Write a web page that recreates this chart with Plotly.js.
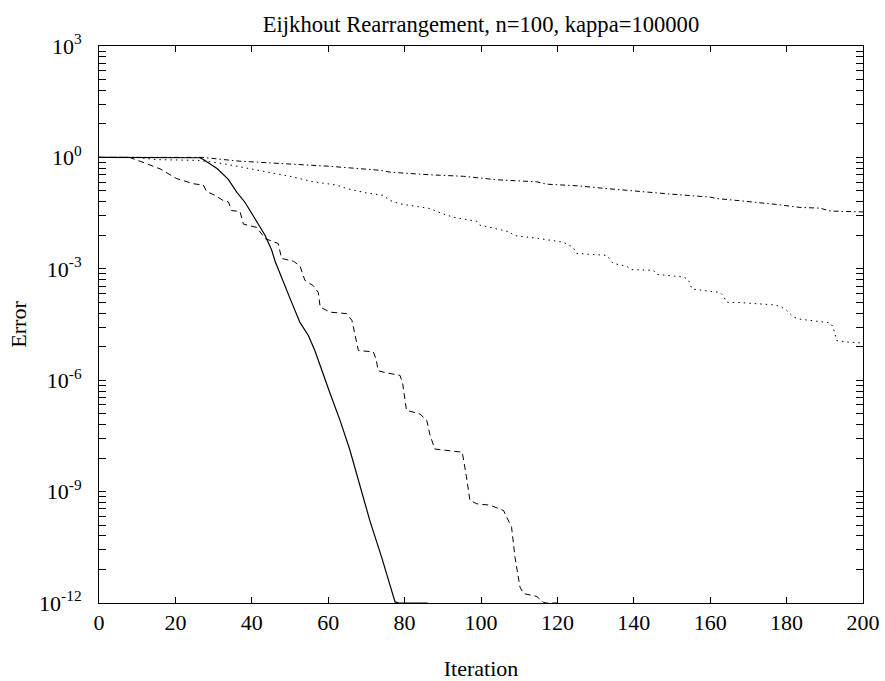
<!DOCTYPE html>
<html>
<head>
<meta charset="utf-8">
<script src="https://cdn.plot.ly/plotly-3.0.1.min.js"></script>
<style>html,body{margin:0;padding:0;background:#fff;}#chart{width:885px;height:681px;}</style>
</head>
<body>
<div id="chart"></div>
<script>
// ---- data ----
const solidIter = [0, 10, 20, 26.4, 27.2, 30.9, 33.8, 36.1, 38.2, 40.3, 43.5, 45.2, 46.1, 50.0, 50.9, 52.6, 54.8, 56.5, 60.5, 63.1, 65.6, 70.9, 74.0, 76.6, 77.5, 78.5, 86];
const solidErr  = [1, 1, 1, 9.8e-1, 8.9e-1, 5.0e-1, 2.6e-1, 1.15e-1, 6.2e-2, 2.75e-2, 7.9e-3, 3.2e-3, 1.6e-3, 1.6e-4, 9.3e-5, 3.6e-5, 1.6e-5, 6.3e-6, 4.4e-7, 8.3e-8, 1.4e-8, 1.66e-10, 1.7e-11, 2.2e-12, 1.07e-12, 1e-12, 1e-12];

const dashIter = [0, 8, 10.7, 16.0, 20.3, 24.7, 27.3, 28.2, 30.4, 32.5, 33.9, 34.7, 36.9, 37.8, 41.3, 43.5, 46.9, 47.8, 50.9, 52.6, 53.9, 56.1, 57.4, 57.9, 60.5, 64.8, 66.2, 67.9, 71.8, 72.5, 73.1, 74.9, 78.8, 79.5, 80.5, 82.3, 84.0, 85.8, 86.6, 87.9, 91.9, 95.1, 96.2, 97.1, 98.9, 102.4, 105.9, 108.0, 108.9, 110.2, 111.1, 114.6, 116.3, 117, 120];
const dashErr  = [1, 1, 7.9e-1, 4.9e-1, 2.7e-1, 1.95e-1, 1.8e-1, 1.2e-1, 9.5e-2, 6.9e-2, 6.3e-2, 3.7e-2, 3.5e-2, 1.6e-2, 1.3e-2, 6.5e-3, 4.8e-3, 1.9e-3, 1.6e-3, 1.2e-3, 4.9e-4, 3.5e-4, 2.3e-4, 9.3e-5, 6.8e-5, 6.2e-5, 4.1e-5, 6.3e-6, 5.8e-6, 3.8e-6, 1.8e-6, 1.6e-6, 1.35e-6, 8.1e-7, 1.55e-7, 1.4e-7, 1.23e-7, 8.3e-8, 3.5e-8, 1.4e-8, 1.23e-8, 1.15e-8, 2.5e-9, 5.8e-10, 4.7e-10, 4.3e-10, 3.1e-10, 1.1e-10, 1.7e-11, 2.7e-12, 1.8e-12, 1.5e-12, 1.05e-12, 1e-12, 1e-12];

const dotIter = [0, 10, 15.1, 26.4, 32.5, 41.3, 47.4, 50, 56.1, 62.2, 64.8, 70.1, 74.4, 76.2, 78.8, 86.6, 90.1, 92.8, 98.9, 99.7, 107.6, 108.5, 115.4, 121.5, 124.1, 125.0, 132.9, 134.6, 138.1, 139.4, 145.1, 146.0, 153.0, 154.3, 155.2, 156.4, 162.6, 163.4, 164.3, 167.8, 176.5, 178.3, 180.0, 181.8, 183.5, 191.4, 192.2, 192.7, 193.1, 195.7, 200];
const dotErr  = [1, 1, 8.7e-1, 8.3e-1, 6.8e-1, 4.5e-1, 3.5e-1, 3.1e-1, 2.2e-1, 1.8e-1, 1.45e-1, 1.1e-1, 9.5e-2, 6.9e-2, 5.6e-2, 4.2e-2, 3.0e-2, 2.45e-2, 1.9e-2, 1.5e-2, 9.8e-3, 7.9e-3, 6.5e-3, 5.2e-3, 3.8e-3, 2.6e-3, 2.3e-3, 1.4e-3, 1.17e-3, 9.5e-4, 9.1e-4, 7.1e-4, 6.0e-4, 5.1e-4, 2.9e-4, 2.75e-4, 2.3e-4, 1.9e-4, 1.26e-4, 1.23e-4, 1.07e-4, 9.8e-5, 7.6e-5, 5.0e-5, 4.4e-5, 3.5e-5, 2.7e-5, 1.8e-5, 1.17e-5, 1.07e-5, 1.0e-5];

const dashDotIter = [0, 27, 36.9, 47.4, 50, 60.5, 73.6, 76.2, 86.6, 95.4, 104.1, 114.6, 117.2, 125.9, 131.2, 139.9, 148.6, 160.0, 161.7, 167.8, 171.3, 177.4, 183.5, 188.7, 191.4, 197.5, 200];
const dashDotErr  = [1, 1, 7.9e-1, 6.8e-1, 6.5e-1, 5.75e-1, 4.5e-1, 4.0e-1, 3.4e-1, 3.1e-1, 2.5e-1, 2.2e-1, 1.9e-1, 1.7e-1, 1.5e-1, 1.23e-1, 1.05e-1, 8.5e-2, 7.8e-2, 6.8e-2, 6.3e-2, 5.4e-2, 4.5e-2, 4.3e-2, 3.6e-2, 3.4e-2, 3.4e-2];

// tick labels
const xTickVals = [0, 20, 40, 60, 80, 100, 120, 140, 160, 180, 200];
const yMajorVals = [1e-12, 1e-9, 1e-6, 1e-3, 1e0, 1e3];
const yMajorText = ['10<sup>-12</sup>', '10<sup>-9</sup>', '10<sup>-6</sup>', '10<sup>-3</sup>', '10<sup>0</sup>', '10<sup>3</sup>'];
const yMinorFactors = [8, 27, 64, 125, 216, 343, 512, 729];

// ---- minor tick positions between the labelled decades ----
const yMinorVals = [];
yMajorVals.slice(0, -1).forEach(v => yMinorFactors.forEach(f => yMinorVals.push(v * f)));

const FONT = 'Liberation Serif, Times New Roman, serif';

const traces = [
  {x: solidIter, y: solidErr, mode: 'lines', line: {color: '#000', width: 1.2}},
  {x: dashIter, y: dashErr, mode: 'lines', line: {color: '#000', width: 1, dash: '6px,4px'}},
  {x: dotIter, y: dotErr, mode: 'lines', line: {color: '#000', width: 1, dash: '1.5px,4px'}},
  {x: dashDotIter, y: dashDotErr, mode: 'lines', line: {color: '#000', width: 1, dash: '5px,3px,1.5px,3px'}}
];

const layout = {
  width: 885, height: 681,
  margin: {l: 99, r: 22, t: 46, b: 78, pad: 0},
  paper_bgcolor: '#fff', plot_bgcolor: '#fff',
  showlegend: false,
  font: {family: FONT, size: 22, color: '#000'},
  title: {text: 'Eijkhout Rearrangement, n=100, kappa=100000', font: {family: FONT, size: 22.6, color: '#000'},
          x: 0.5435, xanchor: 'center', y: 0.965, yref: 'container', yanchor: 'middle'},
  xaxis: {
    range: [0, 200], tickmode: 'array', tickvals: xTickVals, ticktext: xTickVals.map(String),
    ticks: 'inside', ticklen: 6, tickwidth: 1, tickcolor: '#000',
    showline: true, linecolor: '#000', linewidth: 1, mirror: 'ticks',
    showgrid: false, zeroline: false, automargin: false,
    tickfont: {family: FONT, size: 22, color: '#000'}, ticklabelstandoff: 0,
    title: {text: 'Iteration', font: {family: FONT, size: 22, color: '#000'}, standoff: 28}
  },
  yaxis: {
    type: 'log', range: [-12, 3], tickmode: 'array', tickvals: yMajorVals, ticktext: yMajorText,
    ticks: 'inside', ticklen: 7, tickwidth: 1, tickcolor: '#000',
    minor: {tickmode: 'array', tickvals: yMinorVals, ticks: 'inside', ticklen: 7, tickwidth: 1, tickcolor: '#000', showgrid: false},
    showline: true, linecolor: '#000', linewidth: 1, mirror: 'ticks',
    showgrid: false, zeroline: false, automargin: false,
    tickfont: {family: FONT, size: 22, color: '#000'}, ticklabelstandoff: 12,
    title: {text: 'Error', font: {family: FONT, size: 22, color: '#000'}, standoff: 6}
  }
};

Plotly.newPlot('chart', traces, layout, {staticPlot: true, displayModeBar: false});
</script>
</body>
</html>
